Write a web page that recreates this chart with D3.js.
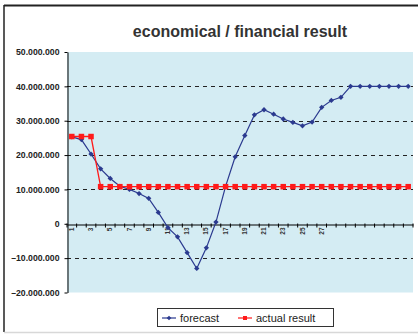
<!DOCTYPE html>
<html>
<head>
<meta charset="utf-8">
<script src="https://cdn.jsdelivr.net/npm/d3@7"></script>
<style>
  html, body { margin: 0; padding: 0; background: #fff; }
  svg { display: block; font-family: "Liberation Sans", Arial, sans-serif; }
</style>
</head>
<body>
<svg id="chart" width="418" height="334"></svg>
<script>
// Periods 1..36; only 1..28 carry a label on the category axis
const periods = d3.range(1, 37);
const periodLabels = periods.map(p => (p <= 28 ? String(p) : ""));

// Values in millions
const forecast = [25.3, 24.5, 20.3, 16.0, 13.2, 10.9, 10.0, 8.8, 7.4, 3.3,
                  -1.1, -3.8, -8.4, -13.0, -7.0, 0.5, 10.9, 19.5, 25.7, 31.7,
                  33.2, 31.9, 30.5, 29.5, 28.5, 29.6, 33.9, 35.9, 36.8, 40,
                  40, 40, 40, 40, 40, 40];
const actualResult = [25.4, 25.4, 25.4, 10.8, 10.8, 10.8, 10.8, 10.8, 10.8, 10.8,
                      10.8, 10.8, 10.8, 10.8, 10.8, 10.8, 10.8, 10.8, 10.8, 10.8,
                      10.8, 10.8, 10.8, 10.8, 10.8, 10.8, 10.8, 10.8, 10.8, 10.8,
                      10.8, 10.8, 10.8, 10.8, 10.8, 10.8];

const yTicks = [-20, -10, 0, 10, 20, 30, 40, 50];
const gridValues = [-10, 10, 20, 30, 40];
const seriesNames = ["forecast", "actual result"];

const svg = d3.select("#chart");
const plot = { left: 67, right: 413, top: 52, bottom: 292.5 };

// Outer frame
svg.append("line").attr("x1", 4).attr("x2", 418).attr("y1", 5.5).attr("y2", 5.5)
  .attr("stroke", "#222").attr("stroke-width", 2);
svg.append("line").attr("x1", 4).attr("x2", 4).attr("y1", 5).attr("y2", 332)
  .attr("stroke", "#222").attr("stroke-width", 1.5);
svg.append("line").attr("x1", 4).attr("x2", 418).attr("y1", 332.5).attr("y2", 332.5)
  .attr("stroke", "#d8d8d8").attr("stroke-width", 1.5);

// Title
svg.append("text").attr("x", 240).attr("y", 37).attr("text-anchor", "middle")
  .attr("font-size", 16).attr("font-weight", "bold").attr("fill", "#333")
  .text("economical / financial result");

const x = d3.scaleBand().domain(periods).range([plot.left, plot.right]).padding(0);
const y = d3.scaleLinear().domain([-20, 50]).range([plot.bottom, plot.top]);
const cx = p => x(p) + x.bandwidth() / 2;

// Plot background
svg.append("rect").attr("x", plot.left).attr("y", plot.top)
  .attr("width", plot.right - plot.left).attr("height", plot.bottom - plot.top)
  .attr("fill", "#d4ecf3");

// Dashed gridlines
svg.append("g").selectAll("line").data(gridValues).join("line")
  .attr("x1", plot.left).attr("x2", plot.right)
  .attr("y1", d => Math.round(y(d)) + 0.5).attr("y2", d => Math.round(y(d)) + 0.5)
  .attr("stroke", "#222").attr("stroke-width", 1).attr("stroke-dasharray", "4,4");

// Y axis
const fmt = v => {
  const s = d3.format(",")(Math.abs(v) * 1e6).replace(/,/g, ".");
  return (v < 0 ? "\u2013" : "") + s;
};
const yAxis = svg.append("g").attr("transform", `translate(${plot.left + 0.5},0)`)
  .call(d3.axisLeft(y).tickValues(yTicks).tickFormat(fmt).tickSize(3).tickSizeOuter(0));
yAxis.select(".domain").attr("stroke", "#000");
yAxis.selectAll(".tick line").attr("stroke", "#000");
yAxis.selectAll(".tick text").attr("font-size", 8.7).attr("font-weight", "bold")
  .attr("fill", "#222").attr("x", -8).attr("font-family", "Liberation Sans, Arial, sans-serif");

// X axis along zero, ticks at category boundaries
const y0 = Math.round(y(0)) + 0.5;
const xAxis = svg.append("g").attr("transform", `translate(0,${y0})`)
  .call(d3.axisBottom(x).tickFormat((d, i) => (i % 2 === 0 ? periodLabels[i] : ""))
    .tickSize(0).tickSizeOuter(0));
xAxis.select(".domain").attr("stroke", "#000");
xAxis.selectAll(".tick text")
  .attr("font-size", 6.5).attr("font-weight", "bold").attr("fill", "#333")
  .attr("font-family", "Liberation Sans, Arial, sans-serif")
  .attr("text-anchor", "end").attr("dy", "0.32em")
  .attr("transform", "translate(0,3) rotate(-90)").attr("y", 0).attr("x", 0);
svg.append("g").selectAll("line").data(d3.range(0, periods.length + 1)).join("line")
  .attr("x1", i => plot.left + i * x.step()).attr("x2", i => plot.left + i * x.step())
  .attr("y1", y0 - 1).attr("y2", y0 + 3).attr("stroke", "#000");

// Series lines
const line = d3.line().x((d, i) => cx(periods[i])).y(d => y(d));
svg.append("path").datum(forecast).attr("d", line)
  .attr("fill", "none").attr("stroke", "#2b3a8f").attr("stroke-width", 1.2);
svg.append("path").datum(actualResult).attr("d", line)
  .attr("fill", "none").attr("stroke", "#ff1a1a").attr("stroke-width", 1.3);

// Markers
const diamond = d3.symbol().type(d3.symbolDiamond2).size(18);
svg.append("g").selectAll("path").data(forecast).join("path")
  .attr("d", diamond)
  .attr("transform", (d, i) => `translate(${cx(periods[i])},${y(d)})`)
  .attr("fill", "#2b3a8f");
svg.append("g").selectAll("rect").data(actualResult).join("rect")
  .attr("x", (d, i) => cx(periods[i]) - 2.75).attr("y", d => y(d) - 2.75)
  .attr("width", 5.5).attr("height", 5.5).attr("fill", "#ff1a1a");

// Legend
const lg = svg.append("g");
lg.append("rect").attr("x", 157.5).attr("y", 308.5).attr("width", 176).attr("height", 18)
  .attr("fill", "#fff").attr("stroke", "#333").attr("stroke-width", 1);
const items = [
  { name: seriesNames[0], color: "#2b3a8f", x0: 162, tx: 180, marker: "diamond" },
  { name: seriesNames[1], color: "#ff1a1a", x0: 238, tx: 256, marker: "square" }
];
items.forEach(it => {
  lg.append("line").attr("x1", it.x0).attr("x2", it.x0 + 14).attr("y1", 318).attr("y2", 318)
    .attr("stroke", it.color).attr("stroke-width", 1.2);
  if (it.marker === "diamond") {
    lg.append("path").attr("d", d3.symbol().type(d3.symbolDiamond2).size(14))
      .attr("transform", `translate(${it.x0 + 7},318)`).attr("fill", it.color);
  } else {
    lg.append("rect").attr("x", it.x0 + 5).attr("y", 316).attr("width", 4).attr("height", 4)
      .attr("fill", it.color);
  }
  lg.append("text").attr("x", it.tx).attr("y", 322).attr("font-size", 11)
    .attr("fill", "#222").text(it.name);
});
</script>
</body>
</html>
